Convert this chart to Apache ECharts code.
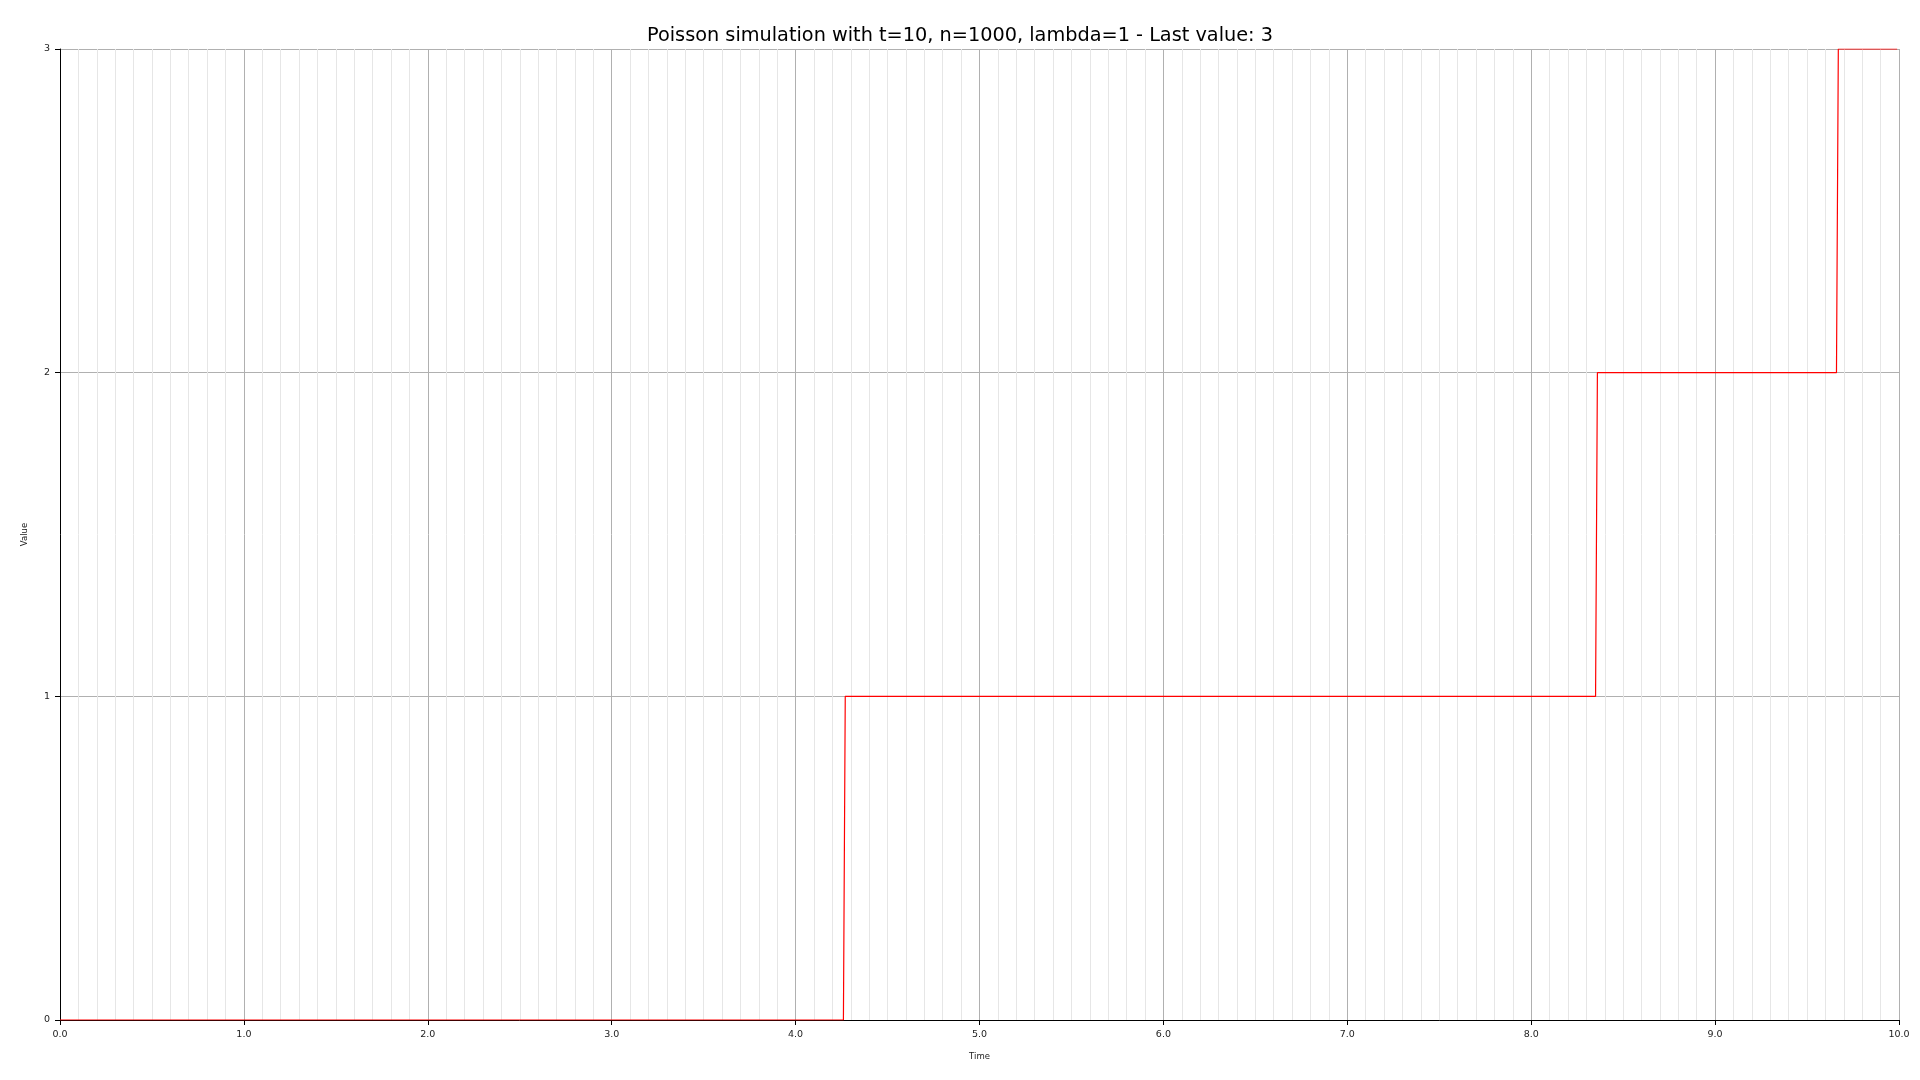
<!DOCTYPE html>
<html>
<head>
    <meta charset="utf-8" />
    <title>Poisson simulation</title>
    <style>
        html, body { margin: 0; padding: 0; background: #fff; }
        #chart { width: 1920px; height: 1080px; }
    </style>
</head>
<body>
    <div id="chart"></div>
    <script src="https://cdn.jsdelivr.net/npm/echarts@6/dist/echarts.min.js"></script>
    <script>
        // step points (time, count)
        var times = [0, 4.26, 4.27, 8.35, 8.36, 9.66, 9.67, 9.99];
        var counts = [0, 0, 1, 1, 2, 2, 3, 3];
        var xTicks = [0, 1, 2, 3, 4, 5, 6, 7, 8, 9, 10];
        var yTicks = [0, 1, 2, 3];

        var points = times.map(function (t, i) { return [t, counts[i]]; });
        var font = 'DejaVu Sans';

        var option = {
            animation: false,
            backgroundColor: '#fff',
            title: {
                text: 'Poisson simulation with t=10, n=1000, lambda=1 - Last value: 3',
                left: 'center',
                top: 21,
                textStyle: { fontFamily: font, fontSize: 19.3, fontWeight: 'normal', color: '#000' }
            },
            grid: { left: 60, right: 21, top: 49, bottom: 60, containLabel: false },
            xAxis: {
                type: 'value',
                min: xTicks[0],
                max: xTicks[xTicks.length - 1],
                interval: 1,
                name: 'Time',
                nameLocation: 'middle',
                nameGap: 32,
                nameTextStyle: { fontFamily: font, fontSize: 8.5, color: '#222' },
                axisLine: { show: true, onZero: false, lineStyle: { color: '#000', width: 1 } },
                axisTick: { show: true, length: 5, lineStyle: { color: '#000' } },
                axisLabel: {
                    fontFamily: font, fontSize: 9.5, color: '#222', margin: 10,
                    formatter: function (v) { return v.toFixed(1); }
                },
                splitLine: { show: true, lineStyle: { color: '#b0b0b0', width: 1 } },
                minorTick: { show: false, splitNumber: 10 },
                minorSplitLine: { show: true, lineStyle: { color: '#e6e6e6', width: 1 } }
            },
            yAxis: {
                type: 'value',
                min: yTicks[0],
                max: yTicks[yTicks.length - 1],
                interval: 1,
                name: 'Value',
                nameLocation: 'middle',
                nameRotate: 90,
                nameGap: 31,
                nameTextStyle: { fontFamily: font, fontSize: 8.5, color: '#222' },
                axisLine: { show: true, onZero: false, lineStyle: { color: '#000', width: 1 } },
                axisTick: { show: true, length: 5, lineStyle: { color: '#000' } },
                axisLabel: { fontFamily: font, fontSize: 9.5, color: '#222', margin: 10 },
                splitLine: { show: true, lineStyle: { color: '#b0b0b0', width: 1 } }
            },
            series: [{
                type: 'line',
                data: points,
                showSymbol: false,
                lineStyle: { color: '#ff0000', width: 1.2 },
                z: 5
            }]
        };

        var chart = echarts.init(document.getElementById('chart'));
        chart.setOption(option);
    </script>
</body>
</html>
